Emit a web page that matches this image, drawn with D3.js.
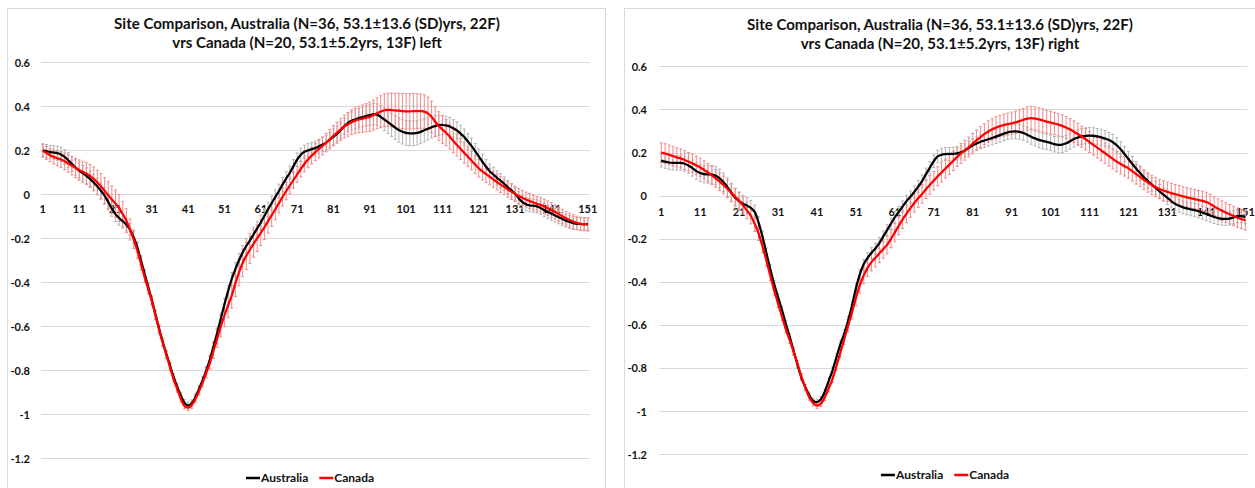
<!DOCTYPE html>
<html>
<head>
<meta charset="utf-8">
<script src="https://cdn.jsdelivr.net/npm/d3@7"></script>
<style>
  html, body { margin: 0; padding: 0; background: #fff; }
  svg { display: block; }
  text { font-family: Lato, "Open Sans", sans-serif; font-weight: bold; }
</style>
</head>
<body>
<svg id="chart" width="1255" height="488"></svg>
<script>
// Sample index along the cycle (1..151) and the axis labels
const sampleCount = 151;
const xTickLabels = [1, 11, 21, 31, 41, 51, 61, 71, 81, 91, 101, 111, 121, 131, 141, 151];
const yTickLabels = [0.6, 0.4, 0.2, 0, -0.2, -0.4, -0.6, -0.8, -1, -1.2];
const seriesNames = ["Australia", "Canada"];

const titleLine1 = "Site Comparison, Australia (N=36, 53.1±13.6 (SD)yrs, 22F)";
const titleLine2Left = "vrs Canada (N=20, 53.1±5.2yrs, 13F) left";
const titleLine2Right = "vrs Canada (N=20, 53.1±5.2yrs, 13F) right";

// Left side: group means
const leftAustralia = [
  0.200,0.196,0.192,0.190,0.187,0.181,0.170,0.155,0.138,0.122,
  0.108,0.096,0.084,0.070,0.054,0.036,0.016,-0.006,-0.035,-0.065,
  -0.090,-0.108,-0.122,-0.138,-0.160,-0.195,-0.240,-0.300,-0.360,-0.420,
  -0.480,-0.545,-0.610,-0.670,-0.725,-0.778,-0.830,-0.875,-0.915,-0.948,
  -0.960,-0.950,-0.922,-0.885,-0.845,-0.800,-0.750,-0.690,-0.630,-0.565,
  -0.500,-0.440,-0.385,-0.340,-0.300,-0.265,-0.235,-0.210,-0.182,-0.155,
  -0.128,-0.098,-0.068,-0.040,-0.012,0.015,0.045,0.072,0.098,0.128,
  0.158,0.180,0.193,0.200,0.205,0.210,0.218,0.226,0.235,0.248,
  0.262,0.275,0.292,0.310,0.325,0.334,0.340,0.346,0.351,0.356,
  0.360,0.364,0.362,0.352,0.340,0.328,0.315,0.303,0.292,0.284,
  0.279,0.277,0.277,0.279,0.284,0.291,0.298,0.305,0.310,0.314,
  0.315,0.313,0.308,0.300,0.290,0.276,0.260,0.240,0.220,0.196,
  0.172,0.148,0.125,0.105,0.090,0.075,0.062,0.048,0.032,0.018,
  0.002,-0.018,-0.035,-0.045,-0.050,-0.052,-0.055,-0.062,-0.072,-0.080,
  -0.088,-0.096,-0.104,-0.112,-0.120,-0.126,-0.131,-0.134,-0.135,-0.135,
  -0.135
];
const leftCanada = [
  0.198,0.188,0.178,0.170,0.164,0.158,0.150,0.140,0.130,0.120,
  0.110,0.102,0.094,0.084,0.070,0.054,0.036,0.016,-0.004,-0.024,
  -0.042,-0.062,-0.090,-0.120,-0.160,-0.205,-0.255,-0.315,-0.375,-0.430,
  -0.485,-0.550,-0.615,-0.675,-0.730,-0.785,-0.840,-0.885,-0.930,-0.962,
  -0.970,-0.958,-0.930,-0.895,-0.855,-0.810,-0.765,-0.710,-0.655,-0.600,
  -0.550,-0.505,-0.460,-0.405,-0.355,-0.312,-0.280,-0.252,-0.225,-0.200,
  -0.175,-0.150,-0.122,-0.095,-0.068,-0.040,-0.012,0.015,0.040,0.065,
  0.090,0.115,0.138,0.158,0.176,0.192,0.206,0.220,0.235,0.250,
  0.266,0.280,0.295,0.308,0.318,0.328,0.335,0.340,0.344,0.348,
  0.352,0.360,0.368,0.376,0.382,0.384,0.383,0.381,0.380,0.378,
  0.377,0.377,0.378,0.378,0.378,0.376,0.368,0.352,0.330,0.310,
  0.294,0.280,0.262,0.242,0.224,0.206,0.188,0.171,0.153,0.135,
  0.118,0.104,0.092,0.080,0.068,0.056,0.044,0.034,0.022,0.012,
  0.002,-0.008,-0.016,-0.024,-0.031,-0.037,-0.043,-0.048,-0.055,-0.063,
  -0.071,-0.080,-0.090,-0.100,-0.109,-0.117,-0.124,-0.130,-0.134,-0.136,
  -0.137
];
// Left side: standard deviations (error bar half-lengths)
const leftAustraliaSD = [
  .030,.030,.030,.031,.032,.033,.033,.034,.034,.035,
  .035,.035,.036,.036,.036,.037,.037,.037,.036,.035,
  .034,.033,.031,.029,.027,.025,.023,.021,.020,.019,
  .018,.018,.017,.017,.016,.016,.015,.015,.015,.015,
  .015,.015,.016,.016,.017,.018,.019,.020,.022,.024,
  .026,.028,.030,.031,.032,.033,.033,.033,.033,.033,
  .033,.033,.032,.032,.032,.031,.031,.031,.030,.030,
  .030,.030,.030,.030,.031,.031,.032,.032,.033,.034,
  .035,.036,.037,.038,.040,.041,.043,.044,.045,.046,
  .047,.048,.049,.050,.051,.052,.053,.054,.055,.055,
  .056,.056,.056,.055,.054,.053,.051,.049,.047,.045,
  .044,.042,.041,.040,.039,.038,.037,.036,.036,.035,
  .035,.034,.034,.033,.033,.032,.032,.031,.031,.031,
  .030,.030,.030,.030,.030,.030,.030,.030,.030,.030,
  .030,.030,.030,.029,.029,.029,.029,.028,.028,.028,
  .028
];
const leftCanadaSD = [
  .028,.029,.030,.032,.034,.036,.038,.040,.042,.044,
  .046,.048,.050,.052,.054,.056,.058,.060,.061,.062,
  .062,.061,.058,.054,.048,.042,.036,.030,.026,.023,
  .021,.020,.019,.018,.017,.016,.015,.015,.014,.014,
  .014,.015,.016,.018,.020,.024,.030,.036,.042,.048,
  .052,.056,.058,.060,.061,.062,.062,.062,.061,.060,
  .058,.056,.054,.051,.048,.045,.042,.040,.038,.037,
  .036,.036,.036,.037,.038,.039,.040,.041,.042,.044,
  .046,.048,.050,.052,.054,.056,.058,.060,.062,.064,
  .066,.068,.070,.072,.074,.076,.077,.078,.079,.080,
  .080,.080,.080,.079,.078,.076,.074,.071,.068,.065,
  .062,.059,.056,.053,.050,.048,.046,.044,.042,.041,
  .040,.039,.038,.037,.037,.036,.036,.035,.035,.035,
  .035,.035,.034,.034,.034,.034,.033,.033,.033,.033,
  .033,.032,.032,.032,.031,.031,.031,.030,.030,.030,
  .030
];

// Right side: group means
const rightAustralia = [
  0.163,0.158,0.154,0.152,0.152,0.152,0.148,0.140,0.128,0.114,
  0.105,0.100,0.099,0.098,0.093,0.080,0.062,0.040,0.015,-0.010,
  -0.025,-0.037,-0.046,-0.056,-0.075,-0.125,-0.190,-0.265,-0.340,-0.410,
  -0.470,-0.530,-0.595,-0.655,-0.720,-0.785,-0.845,-0.888,-0.925,-0.952,
  -0.958,-0.945,-0.910,-0.860,-0.810,-0.750,-0.690,-0.640,-0.580,-0.510,
  -0.430,-0.365,-0.318,-0.288,-0.265,-0.245,-0.220,-0.190,-0.160,-0.130,
  -0.100,-0.075,-0.050,-0.025,-0.005,0.018,0.042,0.068,0.100,0.130,
  0.160,0.182,0.190,0.193,0.194,0.194,0.196,0.201,0.210,0.222,
  0.234,0.242,0.250,0.256,0.262,0.268,0.274,0.281,0.288,0.294,
  0.297,0.298,0.296,0.291,0.283,0.274,0.266,0.259,0.254,0.250,
  0.245,0.239,0.236,0.237,0.243,0.253,0.263,0.270,0.275,0.278,
  0.279,0.278,0.275,0.271,0.265,0.258,0.248,0.234,0.215,0.193,
  0.170,0.147,0.125,0.105,0.085,0.068,0.052,0.036,0.020,0.005,
  -0.010,-0.025,-0.038,-0.047,-0.054,-0.059,-0.063,-0.067,-0.072,-0.078,
  -0.085,-0.092,-0.099,-0.104,-0.107,-0.108,-0.106,-0.101,-0.095,-0.095,
  -0.100
];
const rightCanada = [
  0.200,0.196,0.190,0.184,0.178,0.173,0.166,0.158,0.150,0.141,
  0.132,0.120,0.108,0.094,0.080,0.065,0.050,0.032,0.014,-0.005,
  -0.024,-0.045,-0.068,-0.093,-0.130,-0.175,-0.235,-0.300,-0.370,-0.440,
  -0.500,-0.560,-0.620,-0.670,-0.725,-0.780,-0.840,-0.890,-0.935,-0.962,
  -0.974,-0.965,-0.935,-0.895,-0.850,-0.790,-0.728,-0.665,-0.603,-0.540,
  -0.475,-0.415,-0.370,-0.335,-0.308,-0.288,-0.268,-0.248,-0.228,-0.200,
  -0.170,-0.140,-0.110,-0.083,-0.058,-0.034,-0.012,0.008,0.030,0.050,
  0.070,0.090,0.108,0.126,0.144,0.162,0.180,0.196,0.211,0.226,
  0.242,0.258,0.272,0.286,0.298,0.308,0.316,0.323,0.328,0.332,
  0.336,0.340,0.346,0.352,0.358,0.360,0.358,0.354,0.349,0.344,
  0.339,0.335,0.330,0.324,0.316,0.307,0.297,0.286,0.274,0.262,
  0.249,0.236,0.223,0.210,0.197,0.184,0.171,0.158,0.147,0.137,
  0.127,0.114,0.100,0.087,0.074,0.061,0.050,0.040,0.031,0.024,
  0.018,0.012,0.007,0.002,-0.003,-0.008,-0.012,-0.016,-0.020,-0.024,
  -0.029,-0.038,-0.050,-0.060,-0.069,-0.078,-0.086,-0.094,-0.102,-0.108,
  -0.115
];
// Right side: standard deviations (error bar half-lengths)
const rightAustraliaSD = [
  .030,.031,.032,.033,.033,.034,.035,.036,.037,.038,
  .039,.040,.041,.042,.042,.043,.043,.043,.043,.042,
  .041,.039,.037,.034,.031,.028,.025,.022,.020,.018,
  .017,.016,.015,.015,.014,.014,.013,.013,.013,.013,
  .013,.013,.014,.014,.015,.016,.017,.018,.019,.020,
  .021,.022,.023,.024,.025,.025,.026,.026,.026,.026,
  .026,.026,.026,.027,.027,.027,.028,.028,.028,.029,
  .029,.029,.030,.030,.030,.030,.030,.030,.031,.031,
  .031,.031,.031,.032,.032,.032,.032,.033,.033,.033,
  .033,.034,.034,.034,.035,.035,.035,.036,.036,.036,
  .036,.036,.037,.037,.037,.037,.037,.037,.037,.037,
  .037,.037,.037,.037,.037,.036,.036,.036,.036,.035,
  .035,.035,.034,.034,.033,.033,.032,.032,.032,.031,
  .031,.031,.031,.030,.030,.030,.030,.030,.030,.030,
  .030,.030,.030,.030,.030,.030,.030,.030,.030,.030,
  .030
];
const rightCanadaSD = [
  .045,.045,.045,.045,.044,.044,.044,.043,.043,.043,
  .042,.042,.042,.042,.041,.041,.041,.041,.040,.040,
  .040,.040,.039,.038,.036,.033,.030,.027,.024,.021,
  .019,.018,.017,.016,.015,.015,.014,.014,.014,.014,
  .014,.014,.015,.016,.018,.020,.023,.026,.029,.032,
  .035,.037,.039,.040,.041,.042,.042,.042,.042,.042,
  .042,.042,.042,.042,.042,.042,.043,.043,.043,.043,
  .043,.044,.044,.044,.045,.045,.045,.046,.046,.046,
  .047,.047,.048,.048,.049,.049,.050,.050,.051,.051,
  .052,.052,.053,.053,.054,.054,.054,.054,.054,.053,
  .053,.052,.052,.051,.051,.050,.050,.050,.049,.049,
  .049,.048,.048,.048,.047,.047,.047,.047,.046,.046,
  .046,.046,.046,.045,.045,.045,.045,.045,.045,.045,
  .045,.045,.045,.045,.045,.045,.045,.045,.045,.045,
  .045,.045,.045,.045,.045,.045,.045,.045,.045,.045,
  .045
];

const lineColors = { Australia: "#000000", Canada: "#ff0000" };
const barColors = { Australia: "#b4b4b4", Canada: "#f28a8a" };

const svg = d3.select("#chart");
const categories = d3.range(1, sampleCount + 1);

// Fit a bold text line to a given width by adjusting its font size
function fitText(sel, targetWidth, baseSize) {
  sel.style("font-size", baseSize + "px");
  const w = sel.node().getComputedTextLength();
  sel.style("font-size", (baseSize * targetWidth / w).toFixed(2) + "px");
}

function drawPanel(p) {
  const g = svg.append("g");

  // chart area frame
  g.append("rect")
    .attr("x", p.box[0] + 0.5).attr("y", p.box[1] + 0.5)
    .attr("width", p.box[2] - p.box[0]).attr("height", p.box[3] - p.box[1])
    .attr("fill", "#fff").attr("stroke", "#d9d9d9").attr("stroke-width", 1);

  const band = d3.scaleBand().domain(categories).range([p.left, p.right]);
  const x = d => band(d) + band.bandwidth() / 2;
  const y = d3.scaleLinear().domain([-1.2, 0.6]).range([p.bottom, p.top]);

  // horizontal gridlines
  g.append("g").selectAll("line").data(yTickLabels).join("line")
    .attr("x1", p.left).attr("x2", p.right)
    .attr("y1", d => Math.round(y(d)) + 0.5).attr("y2", d => Math.round(y(d)) + 0.5)
    .attr("stroke", "#d9d9d9").attr("stroke-width", 1);

  // value axis labels
  const yAxis = d3.axisLeft(y).tickValues(yTickLabels).tickSize(0).tickPadding(0)
    .tickFormat(d => String(d));
  const ya = g.append("g").attr("transform", `translate(${p.yLabelRight},0)`).call(yAxis);
  ya.select(".domain").remove();
  ya.selectAll("text").attr("fill", "#111").style("font-size", "11px").attr("dy", "0.35em");

  // category labels sit just under the zero line
  const xa = g.append("g").attr("transform", `translate(0,${y(0)})`);
  xa.selectAll("text").data(xTickLabels).join("text")
    .attr("x", d => x(d)).attr("y", p.xLabelOffset)
    .attr("text-anchor", "middle").attr("fill", "#111")
    .style("font-size", "11px").text(d => d);

  // error bars (both groups) beneath the mean lines
  seriesNames.forEach(name => {
    const mean = p.series[name], sd = p.sd[name];
    const eb = g.append("g").attr("stroke", barColors[name]).attr("stroke-width", 1);
    eb.selectAll("line.v").data(categories).join("line").attr("class", "v")
      .attr("x1", d => x(d)).attr("x2", d => x(d))
      .attr("y1", d => y(mean[d - 1] + sd[d - 1])).attr("y2", d => y(mean[d - 1] - sd[d - 1]));
    eb.selectAll("line.top").data(categories).join("line").attr("class", "top")
      .attr("x1", d => x(d) - 1.5).attr("x2", d => x(d) + 1.5)
      .attr("y1", d => y(mean[d - 1] + sd[d - 1])).attr("y2", d => y(mean[d - 1] + sd[d - 1]));
    eb.selectAll("line.bot").data(categories).join("line").attr("class", "bot")
      .attr("x1", d => x(d) - 1.5).attr("x2", d => x(d) + 1.5)
      .attr("y1", d => y(mean[d - 1] - sd[d - 1])).attr("y2", d => y(mean[d - 1] - sd[d - 1]));
  });

  // smoothed mean lines
  const line = d3.line().x(d => x(d[0])).y(d => y(d[1])).curve(d3.curveCatmullRom.alpha(0.5));
  seriesNames.forEach(name => {
    g.append("path")
      .datum(categories.map(c => [c, p.series[name][c - 1]]))
      .attr("d", line).attr("fill", "none")
      .attr("stroke", lineColors[name]).attr("stroke-width", 2.25)
      .attr("stroke-linejoin", "round");
  });

  // two-line title
  const t1 = g.append("text").attr("x", p.cx).attr("y", p.titleY[0])
    .attr("text-anchor", "middle").attr("fill", "#111").text(titleLine1);
  fitText(t1, 386, 14);
  const t2 = g.append("text").attr("x", p.cx).attr("y", p.titleY[1])
    .attr("text-anchor", "middle").attr("fill", "#111").text(p.title2);
  t2.style("font-size", t1.style("font-size"));

  // legend
  const lg = g.append("g");
  const items = [];
  let cursor = 0;
  seriesNames.forEach((name, i) => {
    const it = lg.append("g");
    it.append("line").attr("x1", 0).attr("x2", 14).attr("y1", 0).attr("y2", 0)
      .attr("stroke", lineColors[name]).attr("stroke-width", 2.5);
    const tx = it.append("text").attr("x", 15).attr("y", 4).attr("fill", "#111")
      .style("font-size", "12px").text(name);
    const w = 15 + tx.node().getComputedTextLength();
    it.attr("transform", `translate(${cursor},0)`);
    cursor += w + (i === 0 ? 11 : 0);
  });
  lg.attr("transform", `translate(${p.legendCx - cursor / 2},${p.legendY})`);
}

drawPanel({
  box: [7, 8, 605, 500],
  left: 41, right: 589.6, top: 62.3, bottom: 458.3,
  yLabelRight: 30, xLabelOffset: 19,
  cx: 307, titleY: [29, 48], title2: titleLine2Left,
  legendCx: 310, legendY: 478,
  series: { Australia: leftAustralia, Canada: leftCanada },
  sd: { Australia: leftAustraliaSD, Canada: leftCanadaSD }
});

drawPanel({
  box: [624, 8, 1262, 500],
  left: 659.3, right: 1247.2, top: 66.4, bottom: 454.3,
  yLabelRight: 647, xLabelOffset: 20,
  cx: 940, titleY: [30, 49], title2: titleLine2Right,
  legendCx: 945, legendY: 475,
  series: { Australia: rightAustralia, Canada: rightCanada },
  sd: { Australia: rightAustraliaSD, Canada: rightCanadaSD }
});
</script>
</body>
</html>
